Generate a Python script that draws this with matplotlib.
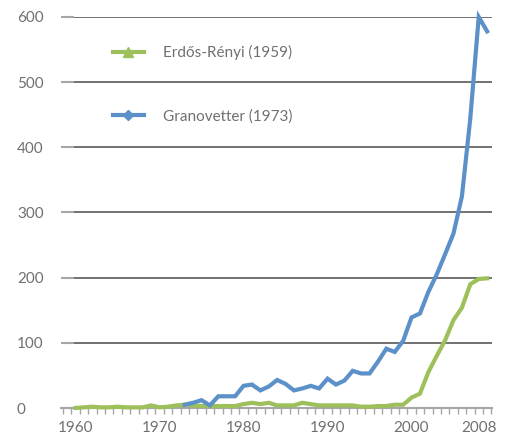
import matplotlib
matplotlib.use("Agg")
import matplotlib.pyplot as plt
from matplotlib.lines import Line2D
from matplotlib.ticker import FixedLocator

plt.rcParams['font.family'] = ['Lato', 'DejaVu Sans']

# citations per year
er_years = list(range(1960, 2010))
er_values = [0, 1, 2, 1, 1, 2, 1, 1, 1, 4,
             1, 2, 4, 5, 4, 3, 3, 3, 3, 3,
             6, 8, 6, 8, 4, 4, 4, 8, 6, 4,
             4, 4, 4, 4, 2, 2, 3, 3, 5, 5,
             16, 22, 55, 80, 104, 135, 154, 190, 198, 199]

gr_years = list(range(1973, 2010))
gr_values = [5, 8, 12, 4, 18, 18, 18,
             34, 36, 27, 33, 43, 37, 27, 30, 34, 30,
             45, 36, 42, 57, 53, 53, 71, 91, 86, 103,
             139, 145, 178, 205, 236, 268, 325, 445, 600, 578]

er_label = 'Erdős-Rényi (1959)'
gr_label = 'Granovetter (1973)'
x_ticks = [1960, 1970, 1980, 1990, 2000, 2008]
y_ticks = [0, 100, 200, 300, 400, 500, 600]

green = '#9dc05a'
blue = '#5b90c9'
text_col = '#707070'

fig = plt.figure(figsize=(5.09, 4.37), dpi=100)
ax = fig.add_axes([61/509, 29/437, 431/509, 391/437])

ax.plot(er_years, er_values, color=green, lw=3, solid_joinstyle='miter', clip_on=False, zorder=3)
ax.plot(gr_years, gr_values, color=blue, lw=3, solid_joinstyle='miter', clip_on=False, zorder=4)

ax.set_xlim(1958.27, 2009.58)
ax.set_ylim(0, 600)

# horizontal gridlines only
ax.set_yticks(y_ticks)
ax.yaxis.grid(True, color='#4a4a4a', lw=1.1)
ax.set_axisbelow(True)
ax.tick_params(axis='y', direction='in', length=9, width=1.5, color='#a6a6a6',
               labelsize=11, labelcolor=text_col, pad=31.7)
for lab in ax.get_yticklabels():
    lab.set_horizontalalignment('left')

ax.xaxis.set_major_locator(FixedLocator(x_ticks))
ax.xaxis.set_minor_locator(FixedLocator([y + 0.5 for y in range(1958, 2010)]))
ax.tick_params(axis='x', which='major', length=0, labelsize=11, labelcolor=text_col, pad=9.5)
ax.tick_params(axis='x', which='minor', direction='out', length=4, width=1, color='#a6a6a6')

for s in ['top', 'right', 'left']:
    ax.spines[s].set_visible(False)
ax.spines['bottom'].set_color('#a6a6a6')
ax.spines['bottom'].set_linewidth(1.5)

handles = [Line2D([], [], color=green, lw=3, marker='^', markersize=7),
           Line2D([], [], color=blue, lw=3, marker='D', markersize=5)]
leg = ax.legend(handles, [er_label, gr_label], loc='upper left',
                bbox_to_anchor=(113/509, 1 - 45/437), bbox_transform=fig.transFigure,
                frameon=False, fontsize=11, labelspacing=3.2, handlelength=2.0,
                handletextpad=1.3, borderpad=0, borderaxespad=0)
for t in leg.get_texts():
    t.set_color(text_col)

fig.savefig('out.png', dpi=100)
